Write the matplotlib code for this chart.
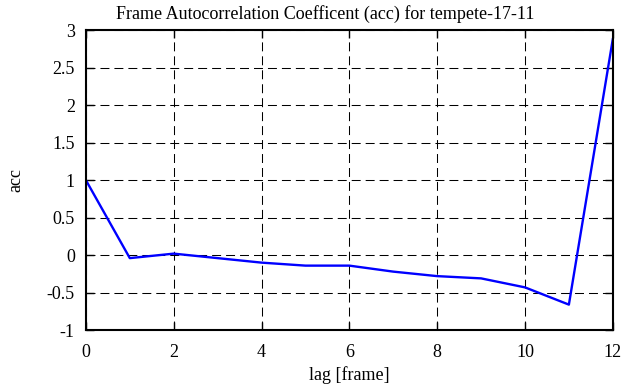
import numpy as np
import matplotlib.pyplot as plt

plt.rcParams['font.family'] = ['Liberation Serif', 'DejaVu Serif']

lag = [0, 1, 2, 3, 4, 5, 6, 7, 8, 9, 10, 11, 12]
acc = [1.0, -0.04, 0.02, -0.04, -0.10, -0.14, -0.14, -0.22, -0.28, -0.31, -0.43, -0.66, 2.88]

fig = plt.figure(figsize=(6.41, 3.87), dpi=100)
ax = fig.add_axes([0.134, 0.147, 0.822, 0.775])

ax.plot(lag, acc, color='#0000ff', linewidth=1.7)

ax.set_xlim(0, 12)
ax.set_ylim(-1, 3)
ax.set_xticks([0, 2, 4, 6, 8, 10, 12])
ax.set_yticks([-1, -0.5, 0, 0.5, 1, 1.5, 2, 2.5, 3])
ax.set_yticklabels(['-1', '-0.5', '0', '0.5', '1', '1.5', '2', '2.5', '3'])
ax.grid(True, color='black', linestyle=(0, (8.6, 4.8)), linewidth=0.75)
ax.tick_params(direction='in', length=6, width=1, top=True, right=True, labelsize=13)
ax.tick_params(axis='x', pad=10)
ax.tick_params(axis='y', pad=8)
for s in ax.spines.values():
    s.set_linewidth(1.5)

# gnuplot centres the title on the canvas, not the plot box
ax.set_title('Frame Autocorrelation Coefficent (acc) for tempete-17-11', fontsize=13, pad=8, x=0.4535)
ax.set_xlabel('lag [frame]', fontsize=13, labelpad=4)
ax.set_ylabel('acc', fontsize=13, labelpad=16)

fig.savefig('out.png', dpi=100)
